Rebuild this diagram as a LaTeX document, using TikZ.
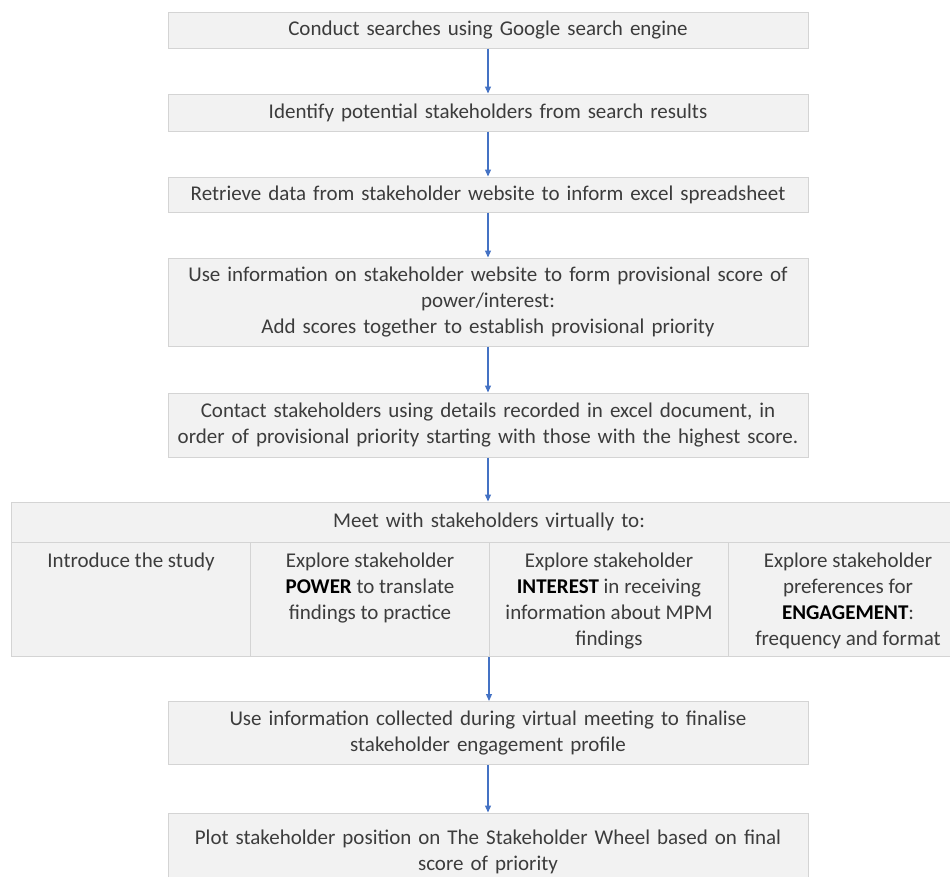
\documentclass[tikz,border=0pt]{standalone}
\usepackage{fontspec}
\setmainfont{Carlito}
\usetikzlibrary{arrows.meta}
\usepackage{xcolor}
\definecolor{boxfill}{HTML}{F2F2F2}
\definecolor{boxline}{HTML}{D4D4D4}
\definecolor{flowblue}{HTML}{4472C4}
\definecolor{txtgray}{HTML}{3C3C3C}
\newcommand{\key}[1]{\textcolor{black}{\textbf{#1}}}

\begin{document}
\begin{tikzpicture}[x=1pt,y=-1pt,
  stepbox/.style={draw=boxline, fill=boxfill, line width=1pt, minimum width=640, text width=634, align=center, inner sep=0pt, text=txtgray, font=\fontsize{21}{26}\selectfont},
  cellbox/.style={draw=boxline, fill=boxfill, line width=1pt, minimum width=239, minimum height=114, inner sep=0pt, anchor=north west, text=txtgray, font=\fontsize{21}{26}\selectfont},
  flow/.style={draw=flowblue, line width=1.2pt, -{Triangle[length=7pt,width=6pt]}}]
\useasboundingbox (0,0) rectangle (950,876);
\clip (0,0) rectangle (950,876);
% Search and desk-based steps
\node[stepbox, minimum height=36] (search) at (488,30) {Conduct searches using Google search engine};
\node[stepbox, minimum height=37] (identify) at (488,112.5) {Identify potential stakeholders from search results};
\node[stepbox, minimum height=35] (retrieve) at (488,194.5) {Retrieve data from stakeholder website to inform excel spreadsheet};
\node[stepbox, minimum height=88] (provscore) at (488,302) {Use information on stakeholder website to form provisional score of\\ power/interest:\\ Add scores together to establish provisional priority};
\node[stepbox, minimum height=64] (contact) at (488,425) {Contact stakeholders using details recorded in excel document, in\\ order of provisional priority starting with those with the highest score.};
% Virtual meeting: header row + four cells
\node[stepbox, minimum width=956, minimum height=40] (meet) at (489,522) {Meet with stakeholders virtually to:};
\foreach \i/\txt in {1/{Introduce the study},
                     2/{Explore stakeholder\\ \key{POWER} to translate\\ findings to practice},
                     3/{Explore stakeholder\\ \key{INTEREST} in receiving\\ information about MPM\\ findings},
                     4/{Explore stakeholder\\ preferences for\\ \key{ENGAGEMENT}:\\ frequency and format}} {
  \node[cellbox] (c\i) at (11+239*\i-239,542) {\parbox[c][114pt][t]{234pt}{\centering\vspace*{10pt}\txt}};
}
% Final steps
\node[stepbox, minimum height=63] (profile) at (488,733) {Use information collected during virtual meeting to finalise\\ stakeholder engagement profile};
\node[stepbox, minimum height=78] (wheel) at (488,852) {Plot stakeholder position on The Stakeholder Wheel based on final\\ score of priority};
% Arrows
\draw[flow] (search) -- (identify);
\draw[flow] (identify) -- (retrieve);
\draw[flow] (retrieve) -- (provscore);
\draw[flow] (provscore) -- (contact);
\draw[flow] (contact.south) -- (contact.south |- meet.north);
\draw[flow] (c3.south west) -- (c3.south west |- profile.north);
\draw[flow] (profile) -- (wheel);
\end{tikzpicture}
\end{document}
